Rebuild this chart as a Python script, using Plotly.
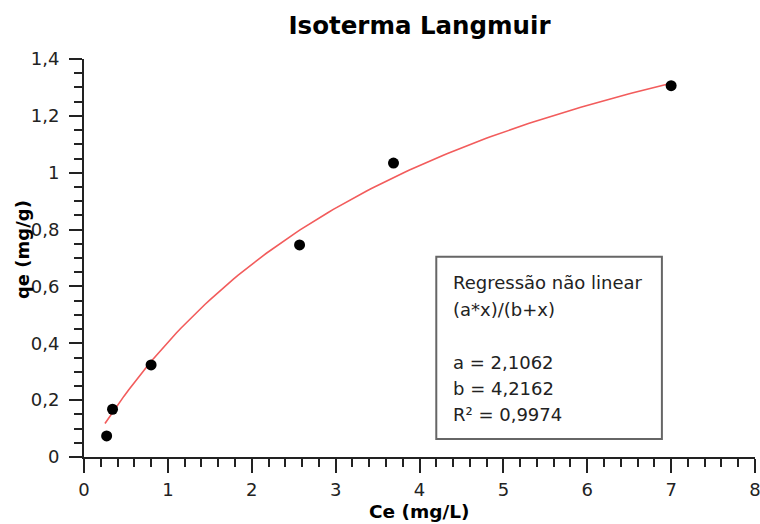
import numpy as np
import plotly.graph_objects as go

# Observed data
ce = [0.27, 0.34, 0.80, 2.57, 3.69, 7.00]
qe = [0.074, 0.168, 0.324, 0.746, 1.034, 1.306]

# Fitted Langmuir parameters (shown on chart)
a_fit = 2.1062
b_fit = 4.2162
r2_fit = 0.9974

fit_x = np.linspace(0.25, 7.0, 120)
fit_y = a_fit * fit_x / (b_fit + fit_x)

x_ticks = [0, 1, 2, 3, 4, 5, 6, 7, 8]
y_ticks = [0, 0.2, 0.4, 0.6, 0.8, 1.0, 1.2, 1.4]
y_tick_labels = ["0", "0,2", "0,4", "0,6", "0,8", "1", "1,2", "1,4"]

FONT = "DejaVu Sans"

fig = go.Figure()
fig.add_trace(go.Scatter(x=fit_x, y=fit_y, mode="lines",
                         line=dict(color="#f25c5c", width=1.6), showlegend=False,
                         hoverinfo="skip"))
fig.add_trace(go.Scatter(x=ce, y=qe, mode="markers",
                         marker=dict(color="black", size=11), showlegend=False))

axis_common = dict(
    showgrid=False, zeroline=False, showline=True, linecolor="#222",
    linewidth=2, ticks="outside", tickcolor="#222", tickwidth=1.5,
    automargin=False, ticklabeloverflow="allow",
    tickfont=dict(family=FONT, size=18, color="#222"),
)

fig.update_xaxes(range=[0, 8], tickvals=x_ticks, ticklen=14,
                 minor=dict(dtick=0.2, ticklen=8, tickcolor="#222", tickwidth=1.5, ticks="outside"),
                 ticklabelstandoff=1, **axis_common)
fig.update_yaxes(range=[0, 1.4], tickvals=y_ticks, ticktext=y_tick_labels, ticklen=13,
                 minor=dict(dtick=0.05, ticklen=8, tickcolor="#222", tickwidth=1.5, ticks="outside"),
                 ticklabelstandoff=6, **axis_common)

box_lines = [
    "Regressão não linear",
    "(a*x)/(b+x)",
    "",
    "a = " + f"{a_fit:.4f}".replace(".", ","),
    "b = " + f"{b_fit:.4f}".replace(".", ","),
    "R² = " + f"{r2_fit:.4f}".replace(".", ","),
]
line_offsets = [26, 52.4, 78.8, 105.2, 131.6, 158]

box_x0, box_x1, box_y0, box_y1 = 4.2, 6.89, 0.063, 0.704
fig.add_shape(type="rect", xref="x", yref="y", x0=box_x0, x1=box_x1, y0=box_y0, y1=box_y1,
              line=dict(color="#666", width=2), fillcolor="white", layer="above")
for txt, off in zip(box_lines, line_offsets):
    if not txt:
        continue
    fig.add_annotation(xref="x", yref="y", x=box_x0, y=box_y1, xanchor="left", yanchor="middle",
                       xshift=15, yshift=-off, align="left", showarrow=False, text=txt,
                       font=dict(family=FONT, size=18, color="#222"))

fig.add_annotation(xref="paper", yref="paper", x=0, y=0.52, xshift=-62,
                   xanchor="center", yanchor="middle",
                   textangle=-90, showarrow=False, text="<b>qe (mg/g)</b>",
                   font=dict(family=FONT, size=18, color="black"))
fig.add_annotation(xref="paper", yref="paper", x=0.5, y=0, yshift=-54,
                   xanchor="center", yanchor="middle",
                   showarrow=False, text="<b>Ce (mg/L)</b>",
                   font=dict(family=FONT, size=18.5, color="black"))

fig.update_layout(
    width=760, height=524,
    margin=dict(l=84, r=5, t=59, b=67),
    paper_bgcolor="white", plot_bgcolor="white",
    title=dict(text="<b>Isoterma Langmuir</b>", x=0.5, xref="paper", xanchor="center",
               y=1 - 25 / 524, yanchor="middle",
               font=dict(family=FONT, size=24.5, color="black")),
)

fig.write_html(
    "out.html",
    config={"displayModeBar": False},
    post_script="document.body.style.margin='0';document.body.style.overflow='hidden';"
                "document.documentElement.style.overflow='hidden';",
)
